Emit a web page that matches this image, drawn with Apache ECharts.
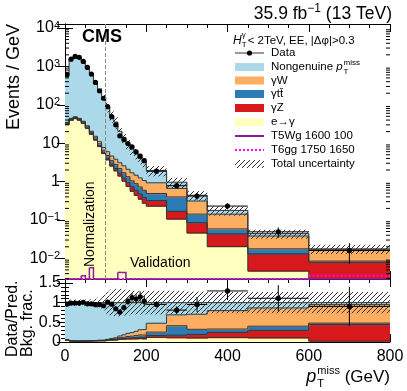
<!DOCTYPE html>
<html>
<head>
<meta charset="utf-8">
<script src="https://cdn.jsdelivr.net/npm/echarts@6/dist/echarts.min.js"></script>
<style>
  html, body { margin: 0; padding: 0; background: #fff; }
  #chart { width: 407px; height: 391px; }
</style>
</head>
<body>
<div id="chart"></div>
<script>
// bin edges (GeV)
const binEdges = [0, 10, 20, 30, 40, 50, 60, 70, 80, 90, 100, 110, 120, 130, 140, 150, 160, 170, 180, 190, 200, 250, 300, 350, 450, 600, 800]

// observed data (events / GeV) and relative stat. error
const dataVals = [603, 1543, 1818, 1721, 1348, 940, 630, 381, 231, 148, 89, 49, 30, 15.5, 12.4, 9.8, 8, 5.9, 4.6, 3.5, 1.86, 0.78, 0.42, 0.23, 0.049, 0.016]
const dataRelErr = [0.01, 0.01, 0.01, 0.01, 0.01, 0.01, 0.01, 0.015, 0.02, 0.02, 0.03, 0.04, 0.05, 0.07, 0.08, 0.09, 0.1, 0.11, 0.12, 0.13, 0.08, 0.12, 0.2, 0.18, 0.3, 0.55]

// backgrounds, bottom of the stack first
const eleGamma = [31.1, 39.9, 43.9, 39.9, 32.8, 24.4, 17.1, 12.1, 8.2, 5.4, 3.7, 2.54, 1.91, 1.4, 1.03, 0.75, 0.56, 0.44, 0.35, 0.275, 0.23, 0.106, 0.046, 0.0204, 0.0047, 0.0004]
const gammaZ = [0.71, 0.89, 0.98, 0.89, 0.71, 0.53, 0.62, 0.44, 0.44, 0.38, 0.3, 0.275, 0.266, 0.248, 0.204, 0.186, 0.169, 0.151, 0.124, 0.106, 0.089, 0.062, 0.039, 0.023, 0.0084, 0.0075]
const gammaTT = [1.42, 1.77, 1.95, 1.77, 1.86, 1.69, 1.42, 1.24, 0.98, 0.77, 0.78, 0.69, 0.61, 0.53, 0.46, 0.4, 0.32, 0.29, 0.25, 0.213, 0.169, 0.23, 0.057, 0.015, 0.0046, 0.0006]
const gammaW = [1.33, 1.77, 1.95, 1.77, 1.86, 1.77, 1.24, 1.33, 1.33, 1.15, 1.22, 1.11, 1.03, 0.92, 0.88, 0.75, 0.64, 0.58, 0.52, 0.47, 0.44, 0.266, 0.169, 0.083, 0.0204, 0.0083]
const nonGenuine = [592, 1515, 1787, 1695, 1298, 942, 629, 387, 232, 153, 82, 46.4, 31.7, 17.3, 11.6, 7.4, 5.4, 3.94, 2.76, 2.31, 1.02, 0.3, 0.13, 0.036, 0.006, 0.0009]

// relative total uncertainty of the prediction
const totalRelUnc = [0.08, 0.08, 0.08, 0.08, 0.08, 0.08, 0.08, 0.1, 0.14, 0.2, 0.28, 0.33, 0.35, 0.35, 0.33, 0.32, 0.3, 0.3, 0.3, 0.3, 0.3, 0.3, 0.28, 0.27, 0.27, 0.27]

// signal points (0 = nothing above the axis)
const t5wg = [0, 0, 0, 0, 0.0035, 0, 0.0057, 0, 0, 0, 0, 0, 0, 0.0043, 0.0043, 0, 0, 0, 0, 0, 0, 0, 0, 0, 0, 0]
const t6gg = [0, 0, 0, 0, 0, 0, 0, 0, 0, 0, 0, 0, 0, 0, 0, 0, 0, 0, 0, 0, 0, 0, 0, 0, 0, 0.00355]

const yMin = 0.0029
const yMax = 12700
const FONT = '"Liberation Sans", Arial, Helvetica, sans-serif'

const layers = [
  { name: 'e→γ', vals: eleGamma, color: '#ffffbf' },
  { name: 'γZ', vals: gammaZ, color: '#d7191c' },
  { name: 'γtt̄', vals: gammaTT, color: '#2c7bb6' },
  { name: 'γW', vals: gammaW, color: '#fdae61' },
  { name: 'Nongenuine', vals: nonGenuine, color: '#abd9e9' },
]
const nBins = binEdges.length - 1

// cumulative stack
const cum = [new Array(nBins).fill(0)]
layers.forEach((l, k) => {
  cum.push(cum[k].map((v, i) => v + l.vals[i]))
})
const total = cum[layers.length]

// hatch pattern
function makeHatch() {
  const c = document.createElement('canvas')
  c.width = 5
  c.height = 5
  const g = c.getContext('2d')
  g.strokeStyle = '#333'
  g.lineWidth = 1
  g.beginPath()
  g.moveTo(0, 5); g.lineTo(5, 0)
  g.moveTo(-1, 1); g.lineTo(1, -1)
  g.moveTo(4, 6); g.lineTo(6, 4)
  g.stroke()
  return c
}
const hatchFill = { image: makeHatch(), repeat: 'repeat' }

// text measuring for the hand-placed labels
const mctx = document.createElement('canvas').getContext('2d')
function tw(text, size, style) {
  mctx.font = (style || 'normal') + ' ' + size + 'px ' + FONT
  return mctx.measureText(text).width
}
function T(x, y, text, size, opt) {
  opt = opt || {}
  const align = opt.align || 'left'
  const va = opt.va || 'middle'
  return {
    type: 'text', x: x, y: y, rotation: opt.rot || 0, z: 100,
    style: {
      text: text, fill: '#000',
      font: (opt.style || 'normal') + ' ' + (opt.weight || 'normal') + ' ' + size + 'px ' + FONT,
      textAlign: align, align: align, textVerticalAlign: va, verticalAlign: va,
    },
  }
}

// stacked histogram layer: [x0, x1, lo, hi, hiOfNextBin]
function layerItems(k, norm) {
  return total.map((t, i) => {
    const d = norm ? t : 1
    const dn = norm ? total[Math.min(i + 1, nBins - 1)] : 1
    const next = i + 1 < nBins ? cum[k + 1][i + 1] / dn : cum[k + 1][i] / d
    return [binEdges[i], binEdges[i + 1], cum[k][i] / d, cum[k + 1][i] / d, next]
  })
}
// fill, a little oversized so neighbouring bins leave no seams
function renderFill(color, floor) {
  return function (params, api) {
    const lo = Math.max(api.value(2), floor)
    const hi = Math.max(api.value(3), floor)
    const a = api.coord([api.value(0), hi]), b = api.coord([api.value(1), lo])
    return {
      type: 'rect',
      shape: { x: a[0], y: a[1], width: b[0] - a[0] + 0.7, height: b[1] - a[1] + 0.7 },
      style: { fill: color },
    }
  }
}
// outline of the layer top, as a staircase
function renderEdge(floor) {
  return function (params, api) {
    const hi = Math.max(api.value(3), floor)
    const hn = Math.max(api.value(4), floor)
    const a = api.coord([api.value(0), hi]), b = api.coord([api.value(1), hi]), c = api.coord([api.value(1), hn])
    return {
      type: 'polyline',
      shape: { points: [a, b, c] },
      style: { stroke: '#333', lineWidth: 1, fill: null },
    }
  }
}
function renderBand(params, api) {
  const a = api.coord([api.value(0), api.value(3)])
  const b = api.coord([api.value(1), api.value(2)])
  return { type: 'rect', shape: { x: a[0], y: a[1], width: b[0] - a[0], height: b[1] - a[1] }, style: { fill: hatchFill } }
}
function renderPoint(params, api) {
  const x0 = api.value(0), x1 = api.value(1), v = api.value(2), lo = api.value(3), hi = api.value(4)
  const xc = (x0 + x1) / 2
  const p = api.coord([xc, v]), l = api.coord([x0, v]), r = api.coord([x1, v])
  const t = api.coord([xc, hi]), b = api.coord([xc, lo])
  return {
    type: 'group',
    children: [
      { type: 'line', shape: { x1: l[0], y1: p[1], x2: r[0], y2: p[1] }, style: { stroke: '#000', lineWidth: 1 } },
      { type: 'line', shape: { x1: p[0], y1: t[1], x2: p[0], y2: b[1] }, style: { stroke: '#000', lineWidth: 1 } },
      { type: 'circle', shape: { cx: p[0], cy: p[1], r: 2.6 }, style: { fill: '#000' } },
    ],
  }
}
function renderStep(color, width, dash) {
  return function (params, api) {
    const v = Math.max(api.value(2), yMin), vn = Math.max(api.value(3), yMin)
    const a = api.coord([api.value(0), v]), b = api.coord([api.value(1), v]), c = api.coord([api.value(1), vn])
    const pts = [a, b]
    if (params.dataIndex < nBins - 1) pts.push(c)
    return { type: 'polyline', shape: { points: pts }, style: { stroke: color, lineWidth: width, lineDash: dash, fill: null } }
  }
}
function stepItems(vals) {
  return vals.map((v, i) => [binEdges[i], binEdges[i + 1], v, i + 1 < nBins ? vals[i + 1] : v])
}

// log axis minor ticks 2..9 x 10^k
const minorVals = []
for (let e = -3; e <= 4; e++) {
  for (let m = 2; m <= 9; m++) {
    const v = m * Math.pow(10, e)
    if (v > yMin && v < yMax) minorVals.push([0, v])
  }
}
function renderMinor(params, api) {
  const v = api.value(1)
  const l = api.coord([0, v]), r = api.coord([800, v])
  return {
    type: 'group',
    children: [
      { type: 'line', shape: { x1: l[0], y1: l[1], x2: l[0] + 4, y2: l[1] }, style: { stroke: '#000', lineWidth: 1 } },
      { type: 'line', shape: { x1: r[0] - 4, y1: r[1], x2: r[0], y2: r[1] }, style: { stroke: '#000', lineWidth: 1 } },
    ],
  }
}

const series = []
layers.forEach((l, k) => {
  series.push({
    name: l.name, type: 'custom', xAxisIndex: 0, yAxisIndex: 0, clip: true,
    renderItem: renderFill(l.color, 1e-6), data: layerItems(k, false),
  })
})
layers.forEach((l, k) => {
  series.push({
    type: 'custom', xAxisIndex: 0, yAxisIndex: 0, clip: true,
    renderItem: renderEdge(1e-6), data: layerItems(k, false),
  })
})
series.push({
  name: 'Total uncertainty', type: 'custom', xAxisIndex: 0, yAxisIndex: 0, clip: true, renderItem: renderBand,
  data: total.map((t, i) => [binEdges[i], binEdges[i + 1], t * (1 - totalRelUnc[i]), t * (1 + totalRelUnc[i])]),
})
series.push({
  type: 'line', xAxisIndex: 0, yAxisIndex: 0, data: [], z: 5,
  markLine: {
    silent: true, symbol: 'none', label: { show: false },
    lineStyle: { color: '#888', type: 'dashed', width: 1 },
    data: [{ xAxis: 100 }],
  },
})
series.push({ name: 'T6gg 1750 1650', type: 'custom', xAxisIndex: 0, yAxisIndex: 0, clip: false, renderItem: renderStep('#ff00ff', 2, [2, 2]), data: stepItems(t6gg) })
series.push({ name: 'T5Wg 1600 100', type: 'custom', xAxisIndex: 0, yAxisIndex: 0, clip: false, renderItem: renderStep('#8e1a9c', 1.5, null), data: stepItems(t5wg) })
series.push({
  name: 'Data', type: 'custom', xAxisIndex: 0, yAxisIndex: 0, clip: true, renderItem: renderPoint,
  data: dataVals.map((v, i) => [binEdges[i], binEdges[i + 1], v, v * (1 - dataRelErr[i]), v * (1 + dataRelErr[i])]),
})
series.push({ type: 'custom', xAxisIndex: 0, yAxisIndex: 0, clip: false, renderItem: renderMinor, data: minorVals })

// ratio panel
layers.forEach((l, k) => {
  series.push({
    type: 'custom', xAxisIndex: 2, yAxisIndex: 2, clip: true,
    renderItem: renderFill(l.color, 0), data: layerItems(k, true),
  })
})
layers.forEach((l, k) => {
  series.push({
    type: 'custom', xAxisIndex: 2, yAxisIndex: 2, clip: true,
    renderItem: renderEdge(0), data: layerItems(k, true),
  })
})
series.push({
  type: 'custom', xAxisIndex: 2, yAxisIndex: 2, clip: true, renderItem: renderBand,
  data: total.map((t, i) => [binEdges[i], binEdges[i + 1], 1 - totalRelUnc[i], 1 + totalRelUnc[i]]),
})
series.push({
  type: 'custom', xAxisIndex: 2, yAxisIndex: 2, clip: true, renderItem: renderPoint,
  data: dataVals.map((v, i) => {
    const r = v / total[i]
    return [binEdges[i], binEdges[i + 1], r, r * (1 - dataRelErr[i]), r * (1 + dataRelErr[i])]
  }),
})

function xAx(grid, pos, labels) {
  return {
    type: 'value', gridIndex: grid, position: pos, min: 0, max: 800, interval: 200,
    axisLine: { show: true, onZero: false, lineStyle: { color: '#000', width: 1 } },
    axisTick: { show: true, inside: true, length: 8, lineStyle: { color: '#000' } },
    minorTick: { show: true, splitNumber: 4, length: 4, lineStyle: { color: '#000' } },
    splitLine: { show: false },
    axisLabel: { show: labels, color: '#000', fontSize: 16, margin: 7 },
  }
}
function logLabel(v) {
  const e = Math.round(Math.log10(v))
  if (e === 0) return '1'
  if (e === 1) return '10'
  return '10{s|' + (e < 0 ? '−' : '') + Math.abs(e) + '}'
}
const yAxes = [
  {
    type: 'log', logBase: 10, gridIndex: 0, position: 'left', min: yMin, max: yMax,
    axisLine: { show: true, lineStyle: { color: '#000' } },
    axisTick: { show: true, inside: true, length: 8, lineStyle: { color: '#000' } },
    splitLine: { show: false },
    axisLabel: {
      color: '#000', fontSize: 16, lineHeight: 16, margin: 5, showMinLabel: false, showMaxLabel: false,
      formatter: logLabel,
      rich: { s: { fontSize: 11, lineHeight: 11, verticalAlign: 'top', padding: [0, 0, 14, 0], color: '#000' } },
    },
  },
  {
    type: 'log', logBase: 10, gridIndex: 0, position: 'right', min: yMin, max: yMax,
    axisLine: { show: true, lineStyle: { color: '#000' } },
    axisTick: { show: true, inside: true, length: 8, lineStyle: { color: '#000' } },
    splitLine: { show: false }, axisLabel: { show: false },
  },
  {
    type: 'value', gridIndex: 1, position: 'left', min: 0, max: 1.6, interval: 0.5,
    axisLine: { show: true, lineStyle: { color: '#000' } },
    axisTick: { show: true, inside: true, length: 8, lineStyle: { color: '#000' } },
    minorTick: { show: true, splitNumber: 5, length: 4, lineStyle: { color: '#000' } },
    splitLine: { show: false },
    axisLabel: { color: '#000', fontSize: 16, margin: 4, showMaxLabel: false, formatter: (v) => String(v) },
  },
  {
    type: 'value', gridIndex: 1, position: 'right', min: 0, max: 1.6, interval: 0.5,
    axisLine: { show: true, lineStyle: { color: '#000' } },
    axisTick: { show: true, inside: true, length: 8, lineStyle: { color: '#000' } },
    minorTick: { show: true, splitNumber: 5, length: 4, lineStyle: { color: '#000' } },
    splitLine: { show: false }, axisLabel: { show: false },
  },
]

// texts: title, CMS, axis titles, legend
const g = []
{
  const right = 392, y = 14
  const wA = tw(' (13 TeV)', 17.5), wS = tw('−1', 12)
  g.push(T(right, y, ' (13 TeV)', 17.5, { align: 'right' }))
  g.push(T(right - wA - wS, y - 5, '−1', 12))
  g.push(T(right - wA - wS, y, '35.9 fb', 17.5, { align: 'right' }))
}
g.push(T(82, 37, 'CMS', 18, { weight: 'bold' }))
g.push(T(14, 77, 'Events / GeV', 18, { rot: Math.PI / 2, align: 'center' }))
g.push(T(12.5, 357, 'Data/Pred.', 16, { rot: Math.PI / 2 }))
g.push(T(28, 357, 'Bkg. frac.', 16, { rot: Math.PI / 2 }))
{
  const right = 390, y = 377
  const wG = tw(' (GeV)', 17), wM = tw('miss', 11)
  g.push(T(right, y, ' (GeV)', 17, { align: 'right' }))
  g.push(T(right - wG - wM, y - 6, 'miss', 11))
  g.push(T(right - wG - wM, y + 7, 'T', 11))
  g.push(T(right - wG - wM - 1, y, 'p', 18, { align: 'right', style: 'italic' }))
}
g.push(T(90, 267, 'Normalization', 14, { rot: Math.PI / 2 }))
g.push(T(130, 263, 'Validation', 14))

// legend
{
  const x0 = 235, x1 = 264, xt = 271, fs = 11.5
  const hy = 40.5
  const wH = tw('H', 12, 'italic')
  g.push(T(233, hy, 'H', 12, { style: 'italic' }))
  g.push(T(233 + wH, hy - 6, 'γ', 8))
  g.push(T(233 + wH, hy + 4, 'T', 8))
  g.push(T(233 + wH + 6, hy, '< 2TeV, EE, |Δφ|>0.3', 11.5))

  const rows = [53, 67, 80.5, 94, 108, 122, 136, 150, 164]
  g.push({ type: 'line', shape: { x1: x0, y1: rows[0], x2: x1, y2: rows[0] }, style: { stroke: '#333', lineWidth: 1 } })
  g.push({ type: 'circle', shape: { cx: (x0 + x1) / 2, cy: rows[0], r: 2.6 }, style: { fill: '#000' } })
  g.push(T(xt, rows[0], 'Data', fs))

  const boxes = [[layers[4].color, 1], [layers[3].color, 2], [layers[2].color, 3], [layers[1].color, 4], [layers[0].color, 5]]
  boxes.forEach(([c, r]) => {
    g.push({ type: 'rect', shape: { x: x0, y: rows[r] - 4, width: x1 - x0, height: 8 }, style: { fill: c } })
  })
  const wN = tw('Nongenuine ', fs)
  g.push(T(xt, rows[1], 'Nongenuine ', fs))
  g.push(T(xt + wN, rows[1], 'p', fs, { style: 'italic' }))
  const wp = tw('p', fs, 'italic')
  g.push(T(xt + wN + wp + 1, rows[1] - 4, 'miss', 8))
  g.push(T(xt + wN + wp + 1, rows[1] + 5, 'T', 8))
  g.push(T(xt, rows[2], 'γW', fs))
  g.push(T(xt, rows[3], 'γtt̄', fs))
  g.push(T(xt, rows[4], 'γZ', fs))
  g.push(T(xt, rows[5], 'e→γ', fs))

  g.push({ type: 'line', shape: { x1: x0, y1: rows[6], x2: x1, y2: rows[6] }, style: { stroke: '#8e1a9c', lineWidth: 2 } })
  g.push(T(xt, rows[6], 'T5Wg 1600 100', fs))
  g.push({ type: 'line', shape: { x1: x0, y1: rows[7], x2: x1, y2: rows[7] }, style: { stroke: '#ff00ff', lineWidth: 2, lineDash: [2, 2] } })
  g.push(T(xt, rows[7], 'T6gg 1750 1650', fs))
  g.push({ type: 'rect', shape: { x: x0, y: rows[8] - 4, width: x1 - x0, height: 8 }, style: { fill: hatchFill } })
  g.push(T(xt, rows[8], 'Total uncertainty', fs))
}

const chart = echarts.init(document.getElementById('chart'))
chart.setOption({
  animation: false,
  textStyle: { fontFamily: FONT },
  grid: [
    { left: 65, right: 17, top: 24, height: 255 },
    { left: 65, right: 17, top: 279, height: 63 },
  ],
  xAxis: [xAx(0, 'bottom', false), xAx(0, 'top', false), xAx(1, 'bottom', true), xAx(1, 'top', false)],
  yAxis: yAxes,
  series: series,
  graphic: { elements: g },
})
</script>
</body>
</html>
